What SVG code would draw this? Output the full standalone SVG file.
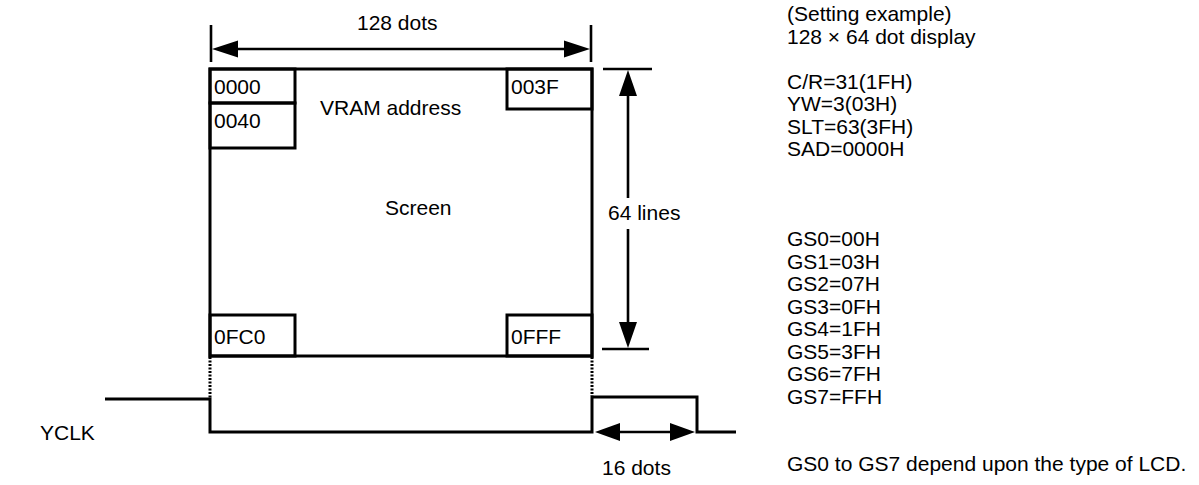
<svg xmlns="http://www.w3.org/2000/svg" width="1199" height="485" viewBox="0 0 1199 485">
<style>
text{font-family:"Liberation Sans",Arial,sans-serif;font-size:21px;fill:#000}
.s{fill:none;stroke:#000;stroke-width:3}
.d{fill:none;stroke:#000;stroke-width:2.6}
.dot{fill:none;stroke:#000;stroke-width:3;stroke-dasharray:2 1.5}
.ah{fill:#000;stroke:none}
</style>
<rect width="1199" height="485" fill="#fff"/>
<g id="screen">
<rect class="s" x="210" y="69" width="382" height="287"/>
<text x="320" y="115">VRAM address</text>
<text x="385" y="215">Screen</text>
</g>
<g id="addr-0000"><rect class="s" x="210" y="69" width="85" height="34"/><text x="214" y="94">0000</text></g>
<g id="addr-0040"><rect class="s" x="210" y="103" width="85" height="45"/><text x="214" y="128">0040</text></g>
<g id="addr-003F"><rect class="s" x="507" y="69" width="85" height="40"/><text x="511" y="94">003F</text></g>
<g id="addr-0FC0"><rect class="s" x="210" y="315" width="85" height="41"/><text x="214" y="344">0FC0</text></g>
<g id="addr-0FFF"><rect class="s" x="507" y="315" width="85" height="41"/><text x="511" y="344">0FFF</text></g>
<g id="connectors">
<!-- 128 dots dimension -->
<line class="d" x1="211" y1="25" x2="211" y2="62"/>
<line class="d" x1="591" y1="25" x2="591" y2="62"/>
<line class="d" x1="236" y1="49" x2="566" y2="49"/>
<polygon class="ah" points="212,49 238,40.5 238,57.5"/>
<polygon class="ah" points="590,49 564,40.5 564,57.5"/>
<!-- 64 lines dimension -->
<line class="d" x1="603" y1="69" x2="652" y2="69"/>
<line class="d" x1="602" y1="349" x2="649" y2="349"/>
<line class="d" x1="628" y1="92" x2="628" y2="198"/>
<line class="d" x1="628" y1="229" x2="628" y2="326"/>
<polygon class="ah" points="628,70 619,96 637,96"/>
<polygon class="ah" points="628,348 619,322 637,322"/>
<!-- dotted extensions -->
<line class="dot" x1="210" y1="357" x2="210" y2="398"/>
<line class="dot" x1="592" y1="357" x2="592" y2="396"/>
<!-- YCLK waveform -->
<polyline class="s" points="105,399 210,399 210,432 592,432 592,397 697,397 697,432 736,432"/>
<!-- 16 dots dimension -->
<line class="d" x1="615" y1="432" x2="676" y2="432"/>
<polygon class="ah" points="595,432 620,423 620,441"/>
<polygon class="ah" points="695,432 670,423 670,441"/>
</g>
<g id="labels">
<text x="357" y="30">128 dots</text>
<text x="608" y="220">64 lines</text>
<text x="602" y="475">16 dots</text>
<text x="40" y="440">YCLK</text>
</g>
<g id="settings">
<text x="787" y="21">(Setting example)</text>
<text x="787" y="43.5">128 × 64 dot display</text>
<text x="787" y="88.5">C/R=31(1FH)</text>
<text x="787" y="111">YW=3(03H)</text>
<text x="787" y="133.5">SLT=63(3FH)</text>
<text x="787" y="156">SAD=0000H</text>
<text x="787" y="246">GS0=00H</text>
<text x="787" y="268.5">GS1=03H</text>
<text x="787" y="291">GS2=07H</text>
<text x="787" y="313.5">GS3=0FH</text>
<text x="787" y="336">GS4=1FH</text>
<text x="787" y="358.5">GS5=3FH</text>
<text x="787" y="381">GS6=7FH</text>
<text x="787" y="403.5">GS7=FFH</text>
<text x="787" y="471">GS0 to GS7 depend upon the type of LCD.</text>
</g>
</svg>
